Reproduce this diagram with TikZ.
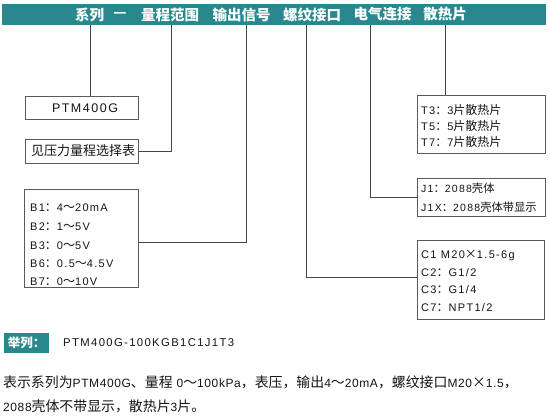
\documentclass[tikz,border=0pt]{standalone}
\usepackage{fontspec}
\setmainfont[LetterSpace=12]{Liberation Sans}
\newfontfamily\zhfam{Noto Sans CJK SC}
\newfontfamily\enfam[LetterSpace=12]{Liberation Sans}
\newfontfamily\enfamB[LetterSpace=5]{Liberation Sans}
\newcommand\zhsz{12}
\newcommand\ensz{11}
\newcommand\curen{\enfam}
\newcommand\tozh{\zhfam\fontsize{\zhsz}{\zhsz}\selectfont}
\newcommand\toen{\curen\fontsize{\ensz}{\ensz}\selectfont}
\newXeTeXintercharclass\CJKcls
\newcount\mycnt
\newcommand\setcls[2]{\mycnt=#1\relax\loop\XeTeXcharclass\mycnt=\CJKcls\relax\ifnum\mycnt<#2\relax\advance\mycnt by 1\repeat}
\setcls{"4E00}{"9FFF}
\setcls{"3000}{"303F}
\setcls{"FF00}{"FFEF}
\XeTeXcharclass"2014=\CJKcls
\XeTeXcharclass"00D7=\CJKcls
\XeTeXinterchartoks 0 \CJKcls = {\tozh}
\XeTeXinterchartoks 4095 \CJKcls = {\tozh}
\XeTeXinterchartoks \CJKcls 0 = {\toen}
\XeTeXinterchartoks \CJKcls 4095 = {\toen}
\definecolor{teal}{RGB}{41,136,141}
\definecolor{txt}{RGB}{20,20,20}
\definecolor{linegray}{RGB}{70,70,70}
\definecolor{boxgray}{RGB}{90,90,90}
\begin{document}
\begin{tikzpicture}[x=1pt,y=-1pt,
  bx/.style={draw=boxgray, line width=0.8pt, inner sep=0pt, anchor=north west},
  lbl/.style={inner sep=0pt, anchor=west, text=txt, font=\toen},
  small/.style={lbl, font={\renewcommand\zhsz{11.3}\renewcommand\ensz{10.5}\toen}},
  big/.style={inner sep=0pt, anchor=west, text=txt, font={\renewcommand\curen{\enfamB}\renewcommand\zhsz{13.9}\renewcommand\ensz{12}\toen}},
  ln/.style={draw=linegray, line width=0.9pt},
  hd/.style={inner sep=0pt, text=white, font={\renewcommand\zhsz{14.5}\tozh\bfseries}}
]
\XeTeXinterchartokenstate=1
\useasboundingbox (0,0) rectangle (550,416);
% header
\node[fill=teal, inner sep=0pt, anchor=north west, minimum width=544pt, minimum height=21pt] (bar) at (2,4) {};
\node[hd] (h1) at (89.5,14.5) {系列};
\node[hd] (h2) at (120,14.5) {—};
\node[hd] (h3) at (170,14.5) {量程范围};
\node[hd] (h4) at (241.5,14.5) {输出信号};
\node[hd] (h5) at (312,14.5) {螺纹接口};
\node[hd] (h6) at (382.5,14.5) {电气连接};
\node[hd] (h7) at (445,14.5) {散热片};
\coordinate (t1) at (90,25);
\coordinate (t2) at (171,25);
\coordinate (t3) at (246,25);
\coordinate (t4) at (306,25);
\coordinate (t5) at (370,25);
\coordinate (t6) at (445,25);
% left boxes
\node[bx, minimum width=113pt, minimum height=23pt] (ptm) at (25,96) {};
\node[inner sep=0pt, text=txt, font={\renewcommand\ensz{12.5}\toen}] (ptmt) at (85,108) {PTM400G};
\node[bx, minimum width=113pt, minimum height=24pt] (sel) at (25,139) {};
\node[lbl, font={\renewcommand\zhsz{13}\toen}] (selt) at (31,151) {见压力量程选择表};
\node[bx, minimum width=114pt, minimum height=98pt] (bbox) at (24,189) {};
\node[lbl] (b1) at (30,208) {B1：4～20mA};
\node[lbl] (b2) at (30,227) {B2：1～5V};
\node[lbl] (b3) at (30,245.5) {B3：0～5V};
\node[lbl] (b6) at (30,264) {B6：0.5～4.5V};
\node[lbl] (b7) at (30,282) {B7：0～10V};
% right boxes
\node[bx, minimum width=128pt, minimum height=58pt] (tbox) at (417,95) {};
\node[lbl] (tt3) at (421,110) {T3：3片散热片};
\node[lbl] (tt5) at (421,125.5) {T5：5片散热片};
\node[lbl] (tt7) at (421,142) {T7：7片散热片};
\node[bx, minimum width=128pt, minimum height=38pt] (jbox) at (417,178) {};
\node[small] (j1) at (421,188) {J1：2088壳体};
\node[small] (j1x) at (421,207.5) {J1X：2088壳体带显示};
\node[bx, minimum width=127pt, minimum height=79pt] (cbox) at (417,240) {};
\node[lbl] (c1) at (421,255) {C1 M20×1.5-6g};
\node[lbl] (c2) at (421,273) {C2：G1/2};
\node[lbl] (c3) at (421,290) {C3：G1/4};
\node[lbl] (c7) at (421,308) {C7：NPT1/2};
% connectors
\draw[ln] (t1) -- (t1 |- ptm.north);
\draw[ln] (t2) |- (sel.east);
\draw[ln] (t3) |- ([yshift=-4pt]bbox.east);
\draw[ln] (t4) |- ([yshift=2.5pt]cbox.west);
\draw[ln] (t5) |- (jbox.west);
\draw[ln] (t6) -- (t6 |- tbox.north);
% example
\node[fill=teal, inner sep=0pt, anchor=north west, minimum width=45pt, minimum height=20pt, text=white, font={\renewcommand\zhsz{12.5}\tozh\bfseries}] (ex) at (4,333) {举列：};
\node[lbl, font={\renewcommand\ensz{11.3}\toen}] (code) at (63,343) {PTM400G-100KGB1C1J1T3};
\node[big] (d1) at (3,382) {表示系列为PTM400G、量程 0～100kPa，表压，输出4～20mA，螺纹接口M20×1.5，};
\node[big] (d2) at (3,406) {2088壳体不带显示，散热片3片。};
\end{tikzpicture}
\end{document}
